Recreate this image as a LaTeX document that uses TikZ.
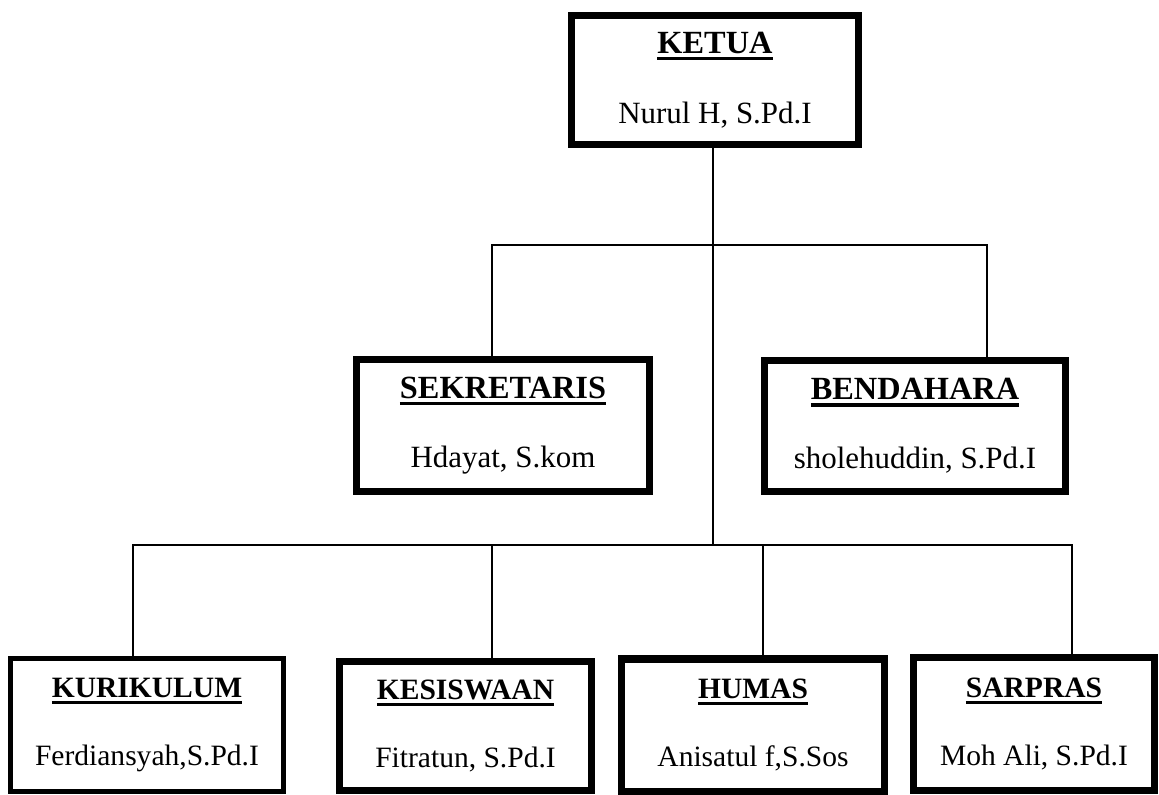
\documentclass[tikz,border=0pt]{standalone}
\usepackage{fontspec}
\setmainfont{Liberation Serif}
\newcommand\ulbf[1]{\sbox0{\bfseries #1}\rlap{\rule[-0.21em]{\wd0}{0.1em}}\usebox0}

\begin{document}
\begin{tikzpicture}[x=0.025cm,y=-0.025cm,
   box/.style={draw,rectangle,line width=5pt,inner sep=0pt,align=center,
      font=\fontsize{22}{26}\selectfont},
   lowbox/.style={box,font=\fontsize{21}{25}\selectfont},
   conn/.style={line width=1.3pt}]
   \useasboundingbox (0,0) rectangle (1159,795);
   \node[box,minimum width=7.175cm,minimum height=3.225cm] (ketua) at (715,80)
      {{\fontsize{23}{26}\selectfont\ulbf{KETUA}}\\[24pt]Nurul H, S.Pd.I};
   \node[box,minimum width=7.325cm,minimum height=3.3cm] (sekretaris) at (503,425.5)
      {{\fontsize{23}{26}\selectfont\ulbf{SEKRETARIS}}\\[23pt]Hdayat, S.kom};
   \node[box,minimum width=7.525cm,minimum height=3.275cm] (bendahara) at (915,426)
      {{\fontsize{23}{26}\selectfont\ulbf{BENDAHARA}}\\[23pt]sholehuddin, S.Pd.I};
   \node[lowbox,line width=3.6pt,minimum width=6.825cm,minimum height=3.325cm] (kurikulum) at (147,725)
      {\ulbf{KURIKULUM}\\[23pt]Ferdiansyah,S.Pd.I};
   \node[lowbox,minimum width=6.3cm,minimum height=3.225cm] (kesiswaan) at (465.5,726)
      {\ulbf{KESISWAAN}\\[23pt]Fitratun, S.Pd.I};
   \node[lowbox,minimum width=6.575cm,minimum height=3.3cm] (humas) at (753,725)
      {\ulbf{HUMAS}\\[23pt]Anisatul f,S.Sos};
   \node[lowbox,minimum width=6.025cm,minimum height=3.325cm] (sarpras) at (1034,724)
      {\ulbf{SARPRAS}\\[23pt]Moh Ali, S.Pd.I};

   \coordinate (upl) at (492,245);
   \coordinate (upr) at (987,245);
   \coordinate (lowl) at (133,545);
   \coordinate (lowr) at (1072,545);
   \coordinate (hub) at (713,545);
   \coordinate (drop2) at (492,545);
   \coordinate (drop3) at (763,545);

   \draw[conn] (hub |- ketua.south) -- (hub);
   \draw[conn] (upl |- sekretaris.north) -- (upl) -- (upr) -- (upr |- bendahara.north);
   \draw[conn] (lowl |- kurikulum.north) -- (lowl) -- (lowr) -- (lowr |- sarpras.north);
   \draw[conn] (drop2) -- (drop2 |- kesiswaan.north);
   \draw[conn] (drop3) -- (drop3 |- humas.north);
\end{tikzpicture}
\end{document}
